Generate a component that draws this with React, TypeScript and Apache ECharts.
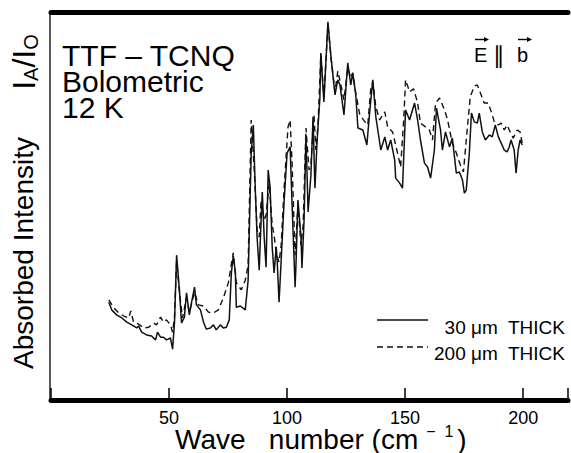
import React, { useEffect, useRef } from "react";
import * as echarts from "echarts";

const FONT = '"Liberation Sans", Arial, Helvetica, sans-serif';

// x-axis ticks (wave number, cm^-1)
const xTicks = [50, 100, 150, 200];
const xMin = 0;
const xMax = 219;

// 30 µm thick sample (solid line): [wave number, absorbed intensity (arb.)]
const thin30um: [number, number][] = [
  [24.5, 24.9], [25.7, 22.9], [27.8, 21.6], [30.0, 20.8], [32.1, 19.7], [34.2, 19.0], [36.3, 18.2], [37.1, 18.7],
  [38.4, 17.1], [40.5, 16.4], [42.6, 16.1], [44.3, 15.1], [45.1, 17.1], [46.4, 15.8], [47.7, 15.8], [48.9, 15.1],
  [50.6, 15.6], [51.5, 12.7], [52.3, 19.5], [53.2, 37.1], [54.4, 28.1], [55.3, 19.5], [56.5, 21.0], [57.4, 27.3],
  [58.6, 21.6], [59.5, 24.7], [60.8, 28.8], [61.6, 24.2], [63.3, 22.9], [64.6, 19.7], [65.8, 17.9], [67.5, 18.2],
  [68.8, 19.0], [70.0, 17.7], [71.7, 19.0], [73.0, 18.2], [74.3, 18.4], [75.5, 20.3], [76.4, 32.5], [77.2, 36.9],
  [78.1, 32.7], [78.5, 23.6], [80.2, 23.9], [82.3, 22.9], [83.5, 30.6], [84.8, 63.6], [85.7, 70.9], [86.5, 54.8],
  [87.3, 41.8], [88.2, 33.2], [89.0, 46.2], [89.5, 53.5], [90.3, 41.8], [91.1, 34.0], [92.0, 59.2], [92.8, 54.8],
  [93.7, 39.2], [94.5, 32.5], [95.4, 39.2], [95.8, 35.8], [96.6, 24.9], [97.5, 35.8], [98.7, 50.6], [100.0, 63.6],
  [101.3, 65.2], [102.1, 50.6], [103.4, 28.8], [103.8, 35.1], [104.6, 51.4], [105.9, 41.8], [106.3, 33.8], [107.2, 46.2],
  [108.0, 68.3], [108.9, 48.3], [110.1, 57.9], [111.0, 73.0], [111.8, 54.5], [112.7, 66.5], [113.9, 77.9], [114.3, 89.6],
  [115.6, 76.9], [117.3, 97.7], [118.6, 88.6], [120.3, 78.7], [121.5, 82.6], [122.4, 81.3], [124.1, 73.5], [125.7, 87.0],
  [127.0, 81.3], [127.8, 84.4], [129.1, 78.7], [130.0, 70.1], [132.1, 69.6], [133.8, 65.7], [135.0, 74.3], [136.3, 82.6],
  [137.6, 73.0], [139.7, 64.4], [141.4, 67.8], [142.6, 64.4], [143.9, 67.0], [145.6, 61.8], [146.0, 57.1], [147.7, 55.8],
  [148.9, 54.5], [150.2, 74.8], [151.9, 72.2], [154.0, 76.6], [155.3, 72.2], [156.5, 67.0], [158.2, 61.0], [159.5, 60.0],
  [160.8, 57.1], [162.4, 64.4], [163.3, 75.3], [165.0, 69.6], [165.8, 64.4], [167.1, 69.1], [168.8, 65.2], [170.0, 67.5],
  [171.7, 58.4], [173.0, 58.7], [174.3, 56.6], [175.1, 53.2], [175.9, 54.0], [177.2, 63.6], [178.1, 74.0], [179.3, 71.7],
  [180.6, 71.4], [181.4, 74.0], [182.7, 69.1], [184.0, 67.0], [185.7, 68.3], [186.9, 67.8], [188.2, 70.9], [189.5, 67.8],
  [190.7, 66.2], [192.0, 64.4], [193.2, 63.9], [194.1, 65.2], [194.9, 67.0], [196.2, 64.4], [197.0, 58.4], [197.9, 64.4],
  [198.7, 67.0], [199.6, 65.7],
];

// 200 µm thick sample (dashed line)
const thick200um: [number, number][] = [
  [24.5, 25.5], [26.6, 23.4], [28.7, 22.1], [30.8, 21.3], [32.9, 20.8], [33.8, 22.6], [35.0, 19.7], [37.1, 19.2],
  [39.2, 18.2], [41.4, 18.4], [43.5, 19.5], [44.7, 19.0], [46.4, 21.0], [47.7, 19.7], [48.9, 20.3], [50.6, 19.0],
  [51.5, 17.1], [52.3, 20.8], [53.2, 35.3], [54.4, 27.5], [55.7, 20.8], [57.4, 26.0], [58.6, 22.3], [60.8, 27.5],
  [62.4, 24.2], [64.6, 23.9], [66.7, 22.3], [68.8, 22.1], [70.9, 22.9], [73.0, 26.0], [75.1, 29.9], [77.2, 37.7],
  [78.5, 29.9], [80.6, 28.1], [82.3, 30.6], [83.5, 34.5], [84.8, 72.2], [86.1, 59.2], [87.3, 43.6], [88.2, 41.8],
  [89.0, 51.4], [90.3, 46.2], [91.1, 47.5], [92.4, 55.8], [93.7, 44.9], [94.5, 42.3], [95.4, 37.7], [96.6, 35.3],
  [97.5, 39.7], [98.7, 54.0], [100.4, 70.4], [101.3, 72.2], [102.1, 61.3], [103.4, 37.1], [104.6, 50.1], [105.9, 39.7],
  [106.8, 44.9], [108.0, 70.1], [109.3, 59.2], [110.1, 60.5], [111.4, 73.5], [112.2, 64.4], [113.1, 70.9], [114.3, 89.1],
  [115.6, 77.9], [117.3, 97.1], [118.6, 88.3], [120.3, 79.5], [121.5, 84.9], [122.8, 81.3], [124.1, 77.4], [125.7, 85.7],
  [127.0, 83.1], [127.8, 84.4], [129.1, 79.2], [130.8, 73.5], [133.0, 71.7], [134.2, 70.9], [135.4, 80.0], [136.3, 82.1],
  [137.6, 75.6], [139.2, 72.2], [141.4, 74.3], [142.6, 70.4], [144.7, 69.1], [146.8, 63.6], [148.1, 60.0], [149.4, 72.2],
  [150.2, 82.6], [151.9, 79.5], [153.6, 80.3], [155.3, 76.6], [156.5, 71.4], [158.6, 70.4], [160.3, 69.6], [161.6, 67.0],
  [162.9, 76.6], [164.6, 77.9], [166.7, 74.8], [168.0, 72.2], [170.0, 66.2], [171.7, 63.6], [173.4, 60.5], [174.7, 58.7],
  [176.4, 70.4], [177.6, 78.2], [179.3, 81.0], [180.6, 81.3], [181.9, 79.2], [183.5, 76.6], [185.2, 76.6], [186.5, 74.3],
  [187.8, 71.7], [189.5, 70.9], [190.7, 71.4], [192.0, 69.6], [193.2, 70.9], [194.5, 69.1], [195.8, 67.5], [197.5, 69.6],
  [198.7, 69.1], [199.6, 66.2],
];

const titleLines = ["TTF – TCNQ", "Bolometric", "12 K"];
const legendLabels = ["30 μm  THICK", "200 μm  THICK"];

export default function App() {
  const ref = useRef<HTMLDivElement>(null);
  useEffect(() => {
    if (!ref.current) return;
    const chart = echarts.init(ref.current, null, { renderer: "svg" });
    const txt = (size: number) => `${size}px ${FONT}`;
    chart.setOption({
      animation: false,
      backgroundColor: "#fff",
      grid: { left: 51, right: 0, top: 12.5, bottom: 53, containLabel: false },
      xAxis: [
        {
          type: "value",
          min: xMin,
          max: xMax,
          interval: 50,
          axisLine: { show: true, onZero: false, lineStyle: { color: "#000", width: 5 } },
          axisTick: { show: true, inside: true, length: 12, lineStyle: { color: "#000", width: 1.5 } },
          axisLabel: {
            color: "#000",
            fontSize: 18,
            fontFamily: FONT,
            margin: 9,
            formatter: (v: number) => (xTicks.includes(v) ? String(v) : ""),
          },
          splitLine: { show: false },
        },
        {
          type: "value",
          position: "top",
          min: xMin,
          max: xMax,
          axisLine: { show: true, onZero: false, lineStyle: { color: "#000", width: 5 } },
          axisTick: { show: false },
          axisLabel: { show: false },
          splitLine: { show: false },
        },
      ],
      yAxis: {
        type: "value",
        min: -0.5,
        max: 100.1,
        offset: 1,
        axisLine: { show: true, onZero: false, lineStyle: { color: "#222", width: 1.5 } },
        axisTick: { show: false },
        axisLabel: { show: false },
        splitLine: { show: false },
      },
      series: [
        {
          name: legendLabels[0],
          type: "line",
          xAxisIndex: 0,
          data: thin30um,
          symbol: "none",
          lineStyle: { color: "#111", width: 1.5 },
          z: 3,
        },
        {
          name: legendLabels[1],
          type: "line",
          xAxisIndex: 0,
          data: thick200um,
          symbol: "none",
          lineStyle: { color: "#111", width: 1.4, type: [6, 4] },
          z: 2,
        },
      ],
      graphic: [
        {
          type: "text",
          x: 62,
          y: 42,
          style: {
            text: titleLines.join("\n"),
            font: txt(30),
            lineHeight: 26,
            fill: "#000",
            verticalAlign: "top",
          },
        },
        {
          type: "text",
          x: 23,
          y: 253,
          rotation: Math.PI / 2,
          style: { text: "Absorbed Intensity", font: txt(28), fill: "#000", align: "center", verticalAlign: "middle" },
        },
        {
          type: "text",
          x: 24,
          y: 62,
          rotation: Math.PI / 2,
          style: {
            text: "{b|I}{s|A}{b|/I}{s|O}",
            fill: "#000",
            align: "center",
            verticalAlign: "middle",
            rich: {
              b: { fontSize: 32, fontFamily: FONT, lineHeight: 34, fill: "#000" },
              s: { fontSize: 20, fontFamily: FONT, lineHeight: 34, verticalAlign: "bottom", fill: "#000" },
            },
          },
        },
        {
          type: "text",
          x: 175,
          y: 438,
          style: {
            text: "{a|Wave   number (cm}{s|−  1}{a|)}",
            fill: "#000",
            verticalAlign: "middle",
            rich: {
              a: { fontSize: 28, fontFamily: FONT, lineHeight: 30, verticalAlign: "bottom", fill: "#000" },
              s: {
                fontSize: 16,
                fontFamily: FONT,
                lineHeight: 30,
                verticalAlign: "top",
                padding: [0, 4, 0, 8],
                fill: "#000",
              },
            },
          },
        },
        { type: "text", x: 474, y: 55, style: { text: "E", font: txt(20), fill: "#000", verticalAlign: "middle" } },
        {
          type: "text",
          x: 498.5,
          y: 55,
          style: { text: "∥", font: txt(23), fill: "#000", align: "center", verticalAlign: "middle" },
        },
        { type: "text", x: 517, y: 55, style: { text: "b", font: txt(20), fill: "#000", verticalAlign: "middle" } },
        { type: "line", shape: { x1: 475, y1: 39.5, x2: 485, y2: 39.5 }, style: { stroke: "#000", lineWidth: 1.4 } },
        { type: "polygon", shape: { points: [[489, 39.5], [484, 37], [484, 42]] }, style: { fill: "#000" } },
        { type: "line", shape: { x1: 518, y1: 39.5, x2: 528, y2: 39.5 }, style: { stroke: "#000", lineWidth: 1.4 } },
        { type: "polygon", shape: { points: [[532, 39.5], [527, 37], [527, 42]] }, style: { fill: "#000" } },
        { type: "line", shape: { x1: 377, y1: 320, x2: 428, y2: 320 }, style: { stroke: "#111", lineWidth: 1.5 } },
        {
          type: "line",
          shape: { x1: 377, y1: 347, x2: 428, y2: 347 },
          style: { stroke: "#111", lineWidth: 1.4, lineDash: [6, 4] },
        },
        {
          type: "text",
          x: 565,
          y: 327,
          style: { text: legendLabels[0], font: txt(19), fill: "#000", align: "right", verticalAlign: "middle" },
        },
        {
          type: "text",
          x: 565,
          y: 353,
          style: { text: legendLabels[1], font: txt(19), fill: "#000", align: "right", verticalAlign: "middle" },
        },
      ],
    });
    return () => chart.dispose();
  }, []);
  return (
    <div
      ref={ref}
      style={{ position: "fixed", left: 0, top: 0, width: 571, height: 453, background: "#fff" }}
    />
  );
}
